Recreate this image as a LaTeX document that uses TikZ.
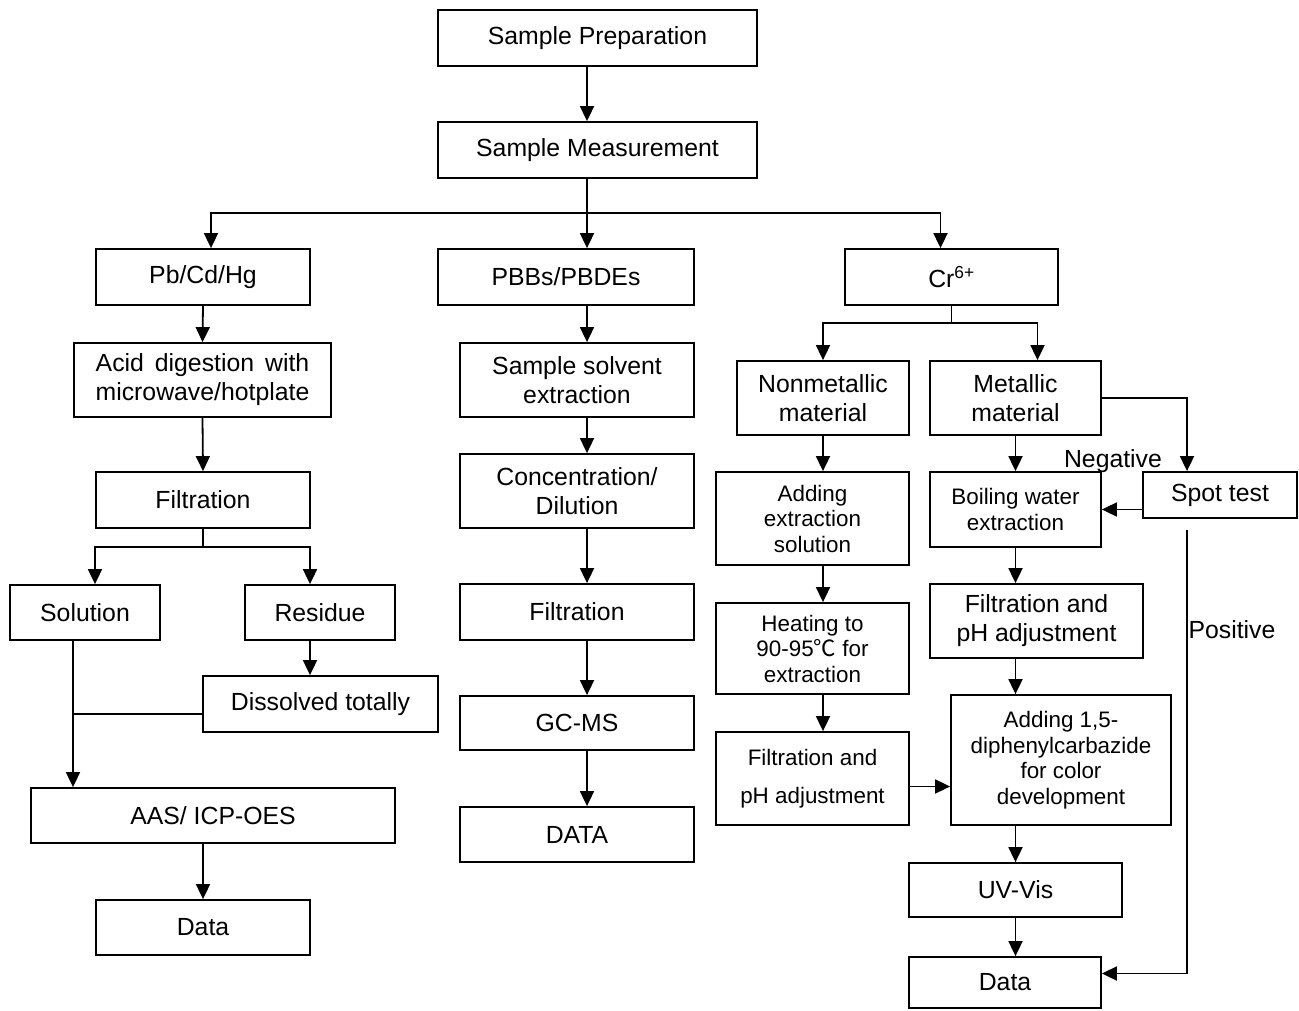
\documentclass[tikz,border=0pt]{standalone}
\usepackage{fontspec}
\setmainfont{Liberation Sans}
\newfontfamily\cjkfont{Noto Sans CJK SC}
\usetikzlibrary{arrows.meta}
\newcommand{\lbltxt}{\fontsize{24.8}{29}\selectfont}
\newcommand{\smltxt}{\fontsize{22.4}{25.5}\selectfont}
\begin{document}
\begin{tikzpicture}[x=1pt,y=-1pt,line width=1.8pt,
    >={Triangle[length=15pt,width=14pt]},
    box/.style={draw,inner sep=0pt,align=center,font=\lbltxt},
    sbox/.style={box,font=\smltxt}]
        \useasboundingbox (0,0) rectangle (1299,1011);
        % top
        \node[box,minimum width=319,minimum height=56] (prep) at (597.5,38) {Sample Preparation};
        \node[box,minimum width=319,minimum height=56] (meas) at (597.5,150) {Sample Measurement};
        \node[box,minimum width=214,minimum height=56] (pb) at (203,277) {Pb/Cd/Hg};
        \node[box,minimum width=256,minimum height=56] (pbb) at (566,277) {PBBs/PBDEs};
        \node[box,minimum width=213,minimum height=56] (cr) at (951.5,277) {Cr\textsuperscript{6+}};
        % Pb/Cd/Hg
        \node[box,minimum width=257,minimum height=74] (acid) at (202.5,380) {\makebox[8.61em][s]{Acid digestion with}\\microwave/hotplate};
        \node[box,minimum width=214,minimum height=56] (filt) at (203,500) {Filtration};
        \node[box,minimum width=150,minimum height=55] (sol) at (85,612.5) {Solution};
        \node[box,minimum width=150,minimum height=55] (res) at (320,612.5) {Residue};
        \node[box,minimum width=235,minimum height=56] (diss) at (320.5,704) {Dissolved totally};
        \node[box,minimum width=364,minimum height=55] (aas) at (213,815.5) {AAS/ ICP-OES};
        \node[box,minimum width=214,minimum height=55] (datal) at (203,927.5) {Data};
        % PBBs/PBDEs
        \node[box,minimum width=234,minimum height=74] (solv) at (577,380) {Sample solvent\\extraction};
        \node[box,minimum width=234,minimum height=74] (conc) at (577,491) {Concentration/\\Dilution};
        \node[box,minimum width=234,minimum height=56] (filtm) at (577,612) {Filtration};
        \node[box,minimum width=234,minimum height=54] (gcms) at (577,723) {GC-MS};
        \node[box,minimum width=234,minimum height=55] (datam) at (577,834.5) {DATA};
        % Cr6+
        \node[box,minimum width=172,minimum height=74] (nonm) at (823,398) {Nonmetallic\\material};
        \node[box,minimum width=171,minimum height=74] (metal) at (1015.5,398) {Metallic\\material};
        \node[sbox,minimum width=193,minimum height=93] (addx) at (812.5,518.5) {Adding\\extraction\\solution};
        \node[sbox,minimum width=193,minimum height=91] (heat) at (812.5,648.5) {Heating to\\90-95{\cjkfont ℃} for\\extraction};
        \node[sbox,minimum width=193,minimum height=93] (filtl) at (812.5,778.5) {Filtration and\\[13pt]pH adjustment};
        \node[sbox,minimum width=171,minimum height=75] (boil) at (1015.5,509.5) {Boiling water\\extraction};
        \node[box,minimum width=154,minimum height=46] (spot) at (1220,495) {Spot test};
        \node[box,minimum width=213,minimum height=74] (filtr) at (1036.5,621) {Filtration and\\pH adjustment};
        \node[sbox,minimum width=220,minimum height=130] (diph) at (1061,760) {Adding 1,5-\\diphenylcarbazide\\for color\\development};
        \node[box,minimum width=213,minimum height=54] (uv) at (1015.5,890) {UV-Vis};
        \node[box,minimum width=192,minimum height=51] (datar) at (1005,982.5) {Data};
        \node[font=\lbltxt] (neg) at (1113,461) {Negative};
        \node[font=\lbltxt] (posl) at (1232,630) {Positive};
        % connectors
        \coordinate (split1) at (587,213);
        \coordinate (fsplit) at (203,547);
        \coordinate (solx) at (73,714);
        \coordinate (crsplit) at (951.5,323);
        \coordinate (postop) at (1187,530);
        \draw[->] (prep.south -| split1) -- (meas.north -| split1);
        \draw (meas.south -| split1) -- (split1);
        \draw[->] (split1) -| ([xshift=8pt]pb.north);
        \draw[->] (split1) -- (split1 |- pbb.north);
        \draw[->] (split1) -| ([xshift=-11pt]cr.north);
        \draw[->] (pb.south) -- (acid.north);
        \draw[->] (acid.south) -- (filt.north);
        \draw (filt.south) -- (fsplit);
        \draw[->] (fsplit) -| ([xshift=10pt]sol.north);
        \draw[->] (fsplit) -| ([xshift=-10pt]res.north);
        \draw[->] ([xshift=-10pt]res.south) -- ([xshift=-10pt]res.south |- diss.north);
        \draw (sol.south -| solx) -- (solx);
        \draw ([yshift=-10pt]diss.west) -- (solx);
        \draw[->] (solx) -- (solx |- aas.north);
        \draw[->] (aas.south -| datal) -- (datal.north);
        \draw[->] (pbb.south -| split1) -- (solv.north -| split1);
        \draw[->] (solv.south -| split1) -- (conc.north -| split1);
        \draw[->] (conc.south -| split1) -- (filtm.north -| split1);
        \draw[->] (filtm.south -| split1) -- (gcms.north -| split1);
        \draw[->] (gcms.south -| split1) -- (datam.north -| split1);
        \draw (cr.south) -- (crsplit);
        \draw[->] (crsplit) -| (nonm.north);
        \draw[->] (crsplit) -| ([xshift=22pt]metal.north);
        \draw[->] (nonm.south) -- (nonm.south |- addx.north);
        \draw[->] (nonm.south |- addx.south) -- (nonm.south |- heat.north);
        \draw[->] (nonm.south |- heat.south) -- (nonm.south |- filtl.north);
        \draw[->] ([yshift=-8pt]filtl.east) -- ([yshift=-8pt]filtl.east -| diph.west);
        \draw[->] (metal.east) -| ([xshift=-33pt]spot.north);
        \draw[->] (spot.west |- boil.east) -- (boil.east);
        \draw[->] (metal.south) -- (boil.north);
        \draw[->] (boil.south) -- (boil.south |- filtr.north);
        \draw[->] (boil.south |- filtr.south) -- (boil.south |- diph.north);
        \draw[->] (boil.south |- diph.south) -- (uv.north);
        \draw[->] (uv.south) -- (uv.south |- datar.north);
        \draw[->] (postop) |- ([yshift=9pt]datar.east);
    \end{tikzpicture}
\end{document}
